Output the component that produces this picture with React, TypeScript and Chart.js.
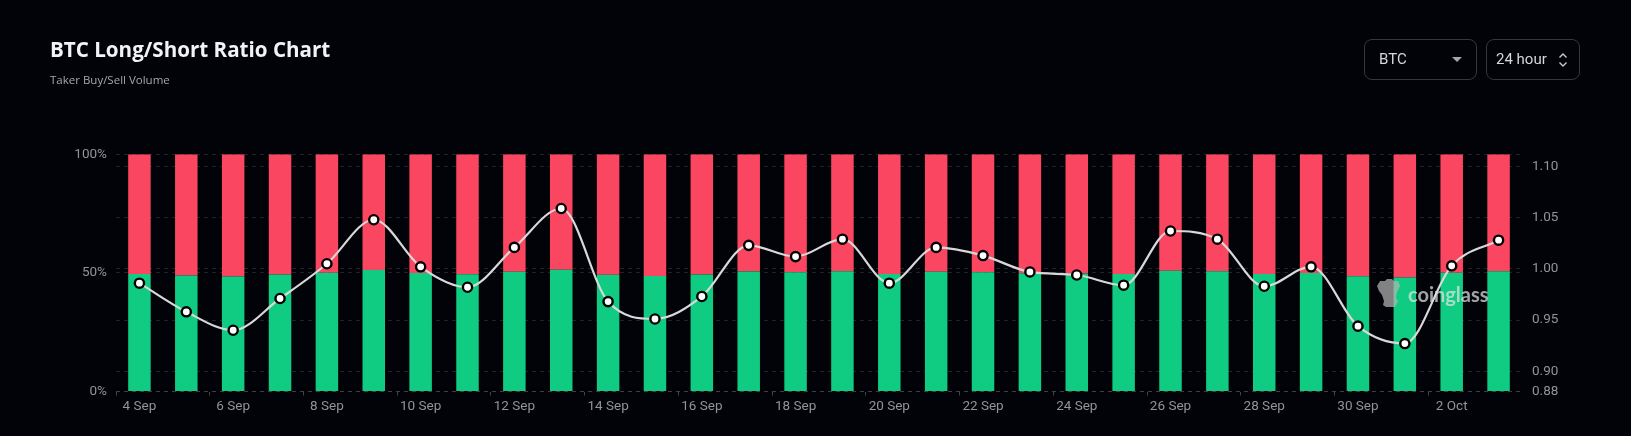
import React, { useEffect, useRef } from "react";
import { Chart, registerables } from "chart.js";

Chart.register(...registerables);

const dates = ["4 Sep","5 Sep","6 Sep","7 Sep","8 Sep","9 Sep","10 Sep","11 Sep","12 Sep","13 Sep","14 Sep","15 Sep","16 Sep","17 Sep","18 Sep","19 Sep","20 Sep","21 Sep","22 Sep","23 Sep","24 Sep","25 Sep","26 Sep","27 Sep","28 Sep","29 Sep","30 Sep","1 Oct","2 Oct","3 Oct"];
const buyShare = [49.6,48.9,48.5,49.3,50.1,51.2,50.0,49.5,50.5,51.4,49.2,48.7,49.3,50.6,50.3,50.7,49.6,50.5,50.3,49.9,49.8,49.6,50.9,50.7,49.6,50.0,48.6,48.1,50.1,50.7];
const sellShare = [50.4,51.1,51.5,50.7,49.9,48.8,50.0,50.5,49.5,48.6,50.8,51.3,50.7,49.4,49.7,49.3,50.4,49.5,49.7,50.1,50.2,50.4,49.1,49.3,50.4,50.0,51.4,51.9,49.9,49.3];
const ratio = [0.986,0.958,0.940,0.971,1.005,1.048,1.002,0.982,1.021,1.059,0.968,0.951,0.973,1.023,1.012,1.029,0.986,1.021,1.013,0.997,0.994,0.984,1.037,1.029,0.983,1.002,0.944,0.927,1.003,1.028];
const ratioTicks = [0.88,0.9,0.95,1.0,1.05,1.1];
const shareTicks = [0,50,100];

const TICK = "#929498";
const GRID = "rgba(255,255,255,0.13)";
const FONT = "Roboto, sans-serif";

const box: React.CSSProperties = {
  position: "absolute", top: 39, height: 41, boxSizing: "border-box",
  border: "1px solid #35373c", borderRadius: 8, color: "#d6d7da",
  font: `15px ${FONT}`, lineHeight: "39px",
};

export default function App() {
  const ref = useRef<HTMLCanvasElement>(null);
  useEffect(() => {
    const chart = new Chart(ref.current!, {
      data: {
        labels: dates,
        datasets: [
          { type: "line", label: "Ratio", data: ratio, yAxisID: "ratioAxis", order: 0,
            borderColor: "#d8d8d8", borderWidth: 2.2, cubicInterpolationMode: "monotone",
            pointRadius: 4.6, pointBackgroundColor: "#ffffff", pointBorderColor: "#000000", pointBorderWidth: 2.4 },
          { type: "bar", label: "Buy", data: buyShare, yAxisID: "shareAxis", order: 1, stack: "s",
            backgroundColor: "#0fcc82", barPercentage: 0.48, categoryPercentage: 1 },
          { type: "bar", label: "Sell", data: sellShare, yAxisID: "shareAxis", order: 2, stack: "s",
            backgroundColor: "#fa4660", barPercentage: 0.48, categoryPercentage: 1 },
        ],
      } as any,
      options: {
        animation: false,
        responsive: false,
        layout: { padding: { top: 154.3, left: 0, right: 0, bottom: 0 } },
        plugins: { legend: { display: false }, title: { display: false }, tooltip: { enabled: false } },
        scales: {
          x: {
            stacked: true,
            afterFit: (s: any) => { s.height = 44.4; },
            border: { display: false },
            grid: {
              drawOnChartArea: false, drawTicks: true, tickLength: 4, offset: true,
              tickColor: (c: any) => (c.index % 2 === 0 ? "rgba(255,255,255,0.25)" : "transparent"),
            },
            ticks: {
              autoSkip: false, maxRotation: 0, color: TICK, padding: 3,
              font: { family: FONT, size: 13.5 },
              callback: (_v: any, i: number) => (i % 2 === 0 ? dates[i] : ""),
            },
          },
          shareAxis: {
            type: "linear", position: "left", stacked: true, min: 0, max: 100,
            afterFit: (s: any) => { s.width = 116; },
            afterBuildTicks: (s: any) => { s.ticks = shareTicks.map((value) => ({ value })); },
            border: { display: false, dash: [4, 4] },
            grid: { color: GRID, drawTicks: false },
            ticks: { color: TICK, padding: 9, font: { family: FONT, size: 13.5 }, callback: (v: any) => `${v}%` },
          },
          ratioAxis: {
            type: "linear", position: "right", min: 0.88, max: 1.112,
            afterFit: (s: any) => { s.width = 109; },
            afterBuildTicks: (s: any) => { s.ticks = ratioTicks.map((value) => ({ value })); },
            border: { display: false, dash: [4, 4] },
            grid: { color: GRID, drawTicks: false },
            ticks: { color: TICK, padding: 10, font: { family: FONT, size: 13.5 }, callback: (v: any) => Number(v).toFixed(2) },
          },
        },
      } as any,
    } as any);
    return () => chart.destroy();
  }, []);
  return (
    <div style={{ position: "fixed", left: 0, top: 0, width: 1631, height: 436, background: "#020308", overflow: "hidden" }}>
      <canvas ref={ref} width={1631} height={436} style={{ position: "absolute", left: 0, top: 0, width: 1631, height: 436 }} />
      <div style={{ position: "absolute", left: 50, top: 35, color: "#f1f3f7", font: "700 20.6px 'Open Sans', sans-serif", lineHeight: "28px", whiteSpace: "nowrap" }}>BTC Long/Short Ratio Chart</div>
      <div style={{ position: "absolute", left: 50, top: 72, color: "#a5a7ab", font: "11.5px 'Open Sans', sans-serif", lineHeight: "16px", whiteSpace: "nowrap" }}>Taker Buy/Sell Volume</div>
      <div style={{ ...box, left: 1364, width: 113, paddingLeft: 14 }}>BTC
        <svg width="10" height="6" style={{ position: "absolute", left: 87, top: 17 }}><path d="M0 0H10L5 5Z" fill="#a5a6a9" /></svg>
      </div>
      <div style={{ ...box, left: 1486, width: 94, paddingLeft: 9, whiteSpace: "nowrap" }}>24 hour
        <svg width="10" height="16" style={{ position: "absolute", left: 71, top: 12 }}><path d="M1.5 5.5L5 2L8.5 5.5M1.5 10.5L5 14L8.5 10.5" fill="none" stroke="#c8c9cc" strokeWidth="1.4" /></svg>
      </div>
      <div style={{ position: "absolute", left: 1377, top: 279, width: 120, height: 32, opacity: 0.72 }}>
        <svg width="24" height="30" style={{ position: "absolute", left: 0, top: 0 }}>
          <path d="M0 7L3 2H8L10 0H15L17 2H21L23 7L20 13L19 19L21 22L18 28H9L6 26L7 22L5 16L2 12Z" fill="#b5b5b5" />
        </svg>
        <div style={{ position: "absolute", left: 31, top: 3, color: "#e2e2e2", font: "700 20px Lato, sans-serif", lineHeight: "24px" }}>coinglass</div>
      </div>
    </div>
  );
}
